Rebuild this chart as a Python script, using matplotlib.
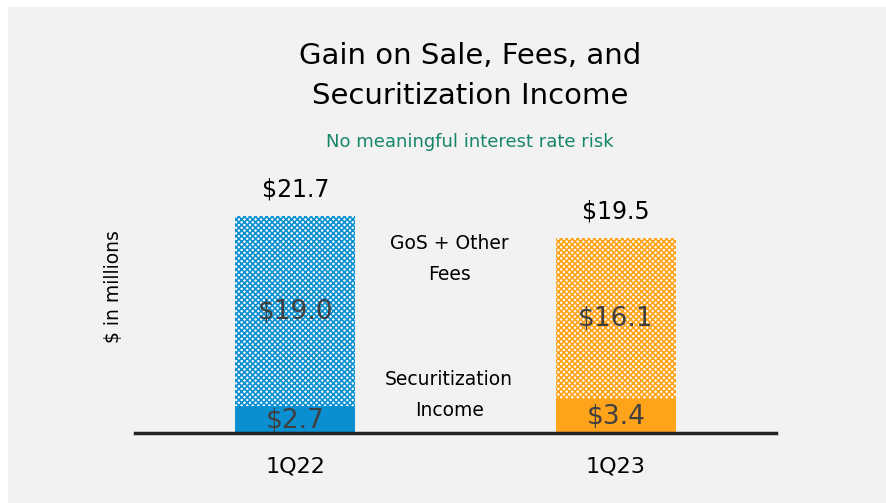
import numpy as np
import matplotlib.pyplot as plt
from matplotlib.patches import Rectangle

# data ($ in millions)
quarters = ['1Q22', '1Q23']
securitization = [2.7, 3.4]
gos_fees = [19.0, 16.1]
totals = [21.7, 19.5]
colors = ['#0a8fd1', '#ffa31a']

plt.rcParams['font.family'] = ['DejaVu Sans']
plt.rcParams['hatch.linewidth'] = 1.2

W, H = 887, 503
fig = plt.figure(figsize=(W / 100, H / 100), dpi=100)
fig.patch.set_facecolor('white')
# light gray slide panel
fig.patches.append(Rectangle((8 / W, 0), 1, 1 - 7 / H, transform=fig.transFigure,
                             facecolor='#f2f2f2', edgecolor='none', zorder=-10))

ax = fig.add_axes([135 / W, (H - 433) / H, 641 / W, 250 / H])
ax.set_facecolor('none')

x = np.arange(len(quarters))
width = 0.373
for i in x:
    ax.bar(i, securitization[i], width, color=colors[i], edgecolor='none', zorder=2)
    ax.bar(i, gos_fees[i], width, bottom=securitization[i], facecolor='white',
           edgecolor=colors[i], hatch='xxxxxx', linewidth=0, zorder=2)
    ax.text(i, securitization[i] / 2 - 0.1, f'${securitization[i]:.1f}', ha='center', va='center',
            fontsize=19, color='#404040', zorder=3)
    ax.text(i, securitization[i] + gos_fees[i] / 2 - 0.1, f'${gos_fees[i]:.1f}', ha='center', va='center',
            fontsize=19, color='#404040', zorder=3)
    ax.text(i, totals[i] + 1.4, f'${totals[i]:.1f}', ha='center', va='bottom',
            fontsize=17, color='black')

# segment labels between the bars
ax.text(0.48, 17.4, 'GoS + Other\nFees', ha='center', va='center', fontsize=13.5, linespacing=1.75)
ax.text(0.48, 3.8, 'Securitization\nIncome', ha='center', va='center', fontsize=13.5, linespacing=1.75)

ax.set_xlim(-0.5, 1.5)
ax.set_ylim(0, 25)
ax.set_xticks(x)
ax.set_xticklabels(quarters, fontsize=16)
ax.tick_params(axis='x', length=0, pad=17)
ax.set_yticks([])
for s in ['top', 'right', 'left']:
    ax.spines[s].set_visible(False)
ax.spines['bottom'].set_linewidth(2.5)
ax.spines['bottom'].set_color('#222222')
ax.spines['bottom'].set_zorder(4)
ax.set_ylabel('$ in millions', fontsize=13.5)
ax.yaxis.set_label_coords(-12 / 641, (433 - 287) / 250)

fig.text(470 / W, 1 - 76 / H, 'Gain on Sale, Fees, and\nSecuritization Income', ha='center', va='center',
         fontsize=21, linespacing=1.55)
fig.text(470 / W, 1 - 142 / H, 'No meaningful interest rate risk', ha='center', va='center',
         fontsize=13, color='#16866a')

fig.savefig('out.png', dpi=100)
